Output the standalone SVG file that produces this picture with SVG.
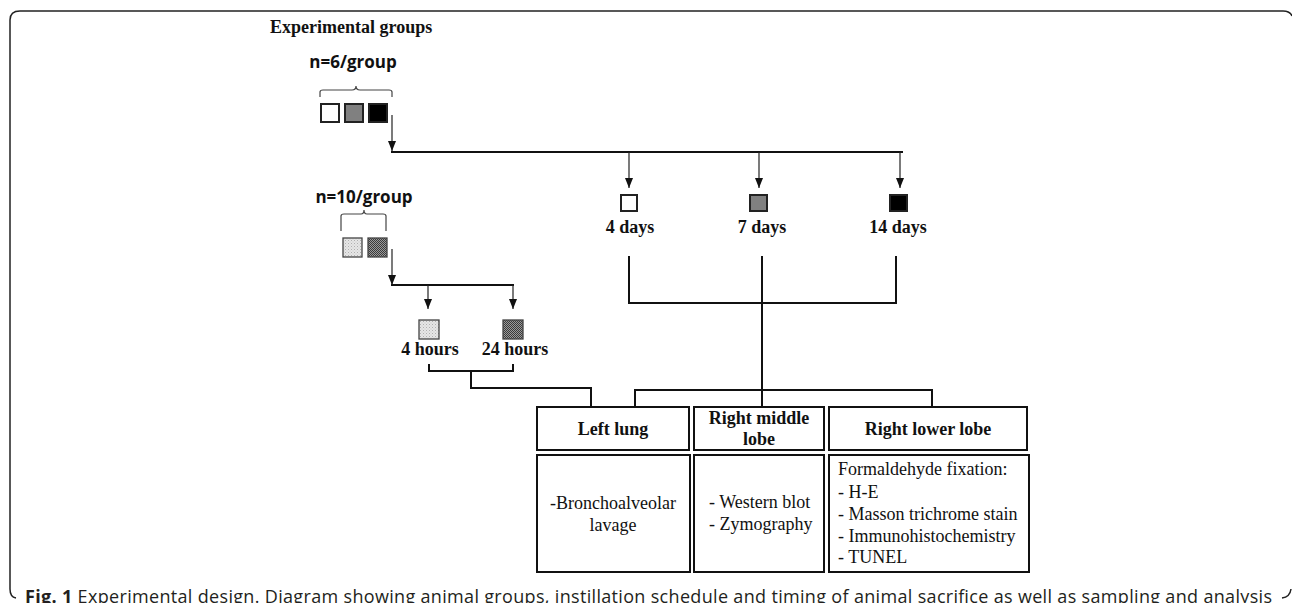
<svg xmlns="http://www.w3.org/2000/svg" width="1292" height="603" viewBox="0 0 1292 603">
<style>
.t{font-family:"Liberation Serif","Times New Roman",serif;font-size:18px;fill:#111}
.b{font-weight:bold}
.s{font-family:"Open Sans","Liberation Sans",sans-serif;font-weight:bold;font-size:17px;fill:#111}
.box{fill:#fff;stroke:#111;stroke-width:2}
.ln{fill:none;stroke:#111;stroke-width:2}
.ar{fill:none;stroke:#222;stroke-width:1.2}
.sq{stroke:#222;stroke-width:2}
.sq2{stroke:#444;stroke-width:1.3}
.br{fill:none;stroke:#444;stroke-width:1.2}
</style>
<defs>
<marker id="ah" markerUnits="userSpaceOnUse" markerWidth="10" markerHeight="8" refX="10" refY="4" orient="auto" viewBox="0 0 10 8">
<path d="M0,0 L10,4 L0,8 z" fill="#111"/>
</marker>
<pattern id="pl" width="3" height="3" patternUnits="userSpaceOnUse">
<rect width="3" height="3" fill="#e6e6e6"/>
<rect width="1" height="1" fill="#b0b0b0"/>
<rect x="1.5" y="1.5" width="1" height="1" fill="#c8c8c8"/>
</pattern>
<pattern id="pd" width="2" height="2" patternUnits="userSpaceOnUse">
<rect width="2" height="2" fill="#9a9a9a"/>
<rect width="1" height="1" fill="#3a3a3a"/>
<rect x="1" y="1" width="1" height="1" fill="#3a3a3a"/>
</pattern>
</defs>
<rect width="1292" height="603" fill="#fff"/>
<g id="frame">
<path d="M16,598 Q10,597 10,589 L10,20 Q10,11 20,11 L1283,11 Q1290,11 1292,16" fill="none" stroke="#222" stroke-width="1.5"/>
<path d="M1282,598 Q1290,597 1291,589" fill="none" stroke="#222" stroke-width="1.5"/>
</g>
<g id="title">
<text class="t b" x="270" y="33" font-size="18.5">Experimental groups</text>
</g>
<g id="group-6">
<text class="s" x="353" y="68" text-anchor="middle">n=6/group</text>
<path class="br" d="M320,97 L320,92 Q320,90 323,90 L352,90 Q356,90 356,86 Q356,90 360,90 L389,90 Q392,90 392,92 L392,97"/>
<rect class="sq" x="321" y="104" width="18" height="18" fill="#fff"/>
<rect class="sq" x="345" y="104" width="18" height="18" fill="#808080"/>
<rect class="sq" x="369" y="104" width="18" height="18" fill="#000"/>
</g>
<g id="group-10">
<text class="s" x="364" y="203" text-anchor="middle">n=10/group</text>
<path class="br" d="M341,231 L341,216 Q341,214 344,214 L361,214 Q364,214 364,210 Q364,214 367,214 L383,214 Q386,214 386,216 L386,231"/>
<rect class="sq2" x="343" y="238" width="19" height="19" fill="url(#pl)"/>
<rect class="sq2" x="368" y="238" width="19" height="19" fill="url(#pd)"/>
</g>
<g id="day4">
<rect class="sq" x="621" y="195" width="16" height="16" fill="#fff"/>
<text class="t b" x="630" y="233" text-anchor="middle">4 days</text>
</g>
<g id="day7">
<rect class="sq" x="750" y="195" width="17" height="16" fill="#808080"/>
<text class="t b" x="762" y="233" text-anchor="middle">7 days</text>
</g>
<g id="day14">
<rect class="sq" x="890" y="195" width="17" height="16" fill="#000"/>
<text class="t b" x="898" y="233" text-anchor="middle">14 days</text>
</g>
<g id="hour4">
<rect class="sq2" x="419" y="320" width="20" height="19" fill="url(#pl)"/>
<text class="t b" x="430" y="355" text-anchor="middle">4 hours</text>
</g>
<g id="hour24">
<rect class="sq2" x="503" y="320" width="20" height="19" fill="url(#pd)"/>
<text class="t b" x="515" y="355" text-anchor="middle">24 hours</text>
</g>
<g id="connectors">
<line class="ar" x1="392" y1="115" x2="392" y2="151" marker-end="url(#ah)"/>
<line class="ln" x1="391" y1="152" x2="903" y2="152"/>
<line class="ar" x1="629" y1="152" x2="629" y2="188" marker-end="url(#ah)"/>
<line class="ar" x1="759" y1="152" x2="759" y2="188" marker-end="url(#ah)"/>
<line class="ar" x1="900" y1="152" x2="900" y2="188" marker-end="url(#ah)"/>
<line class="ar" x1="392" y1="249" x2="392" y2="285" marker-end="url(#ah)"/>
<line class="ln" x1="391" y1="285" x2="514" y2="285"/>
<line class="ar" x1="428" y1="285" x2="428" y2="309" marker-end="url(#ah)"/>
<line class="ar" x1="513" y1="285" x2="513" y2="309" marker-end="url(#ah)"/>
<path class="ln" d="M429,364 L429,371 L513,371 L513,364"/>
<path class="ln" d="M471,371 L471,388 L591,388 L591,407"/>
<path class="ln" d="M629,256 L629,303 L896,303 L896,256"/>
<line class="ln" x1="762" y1="256" x2="762" y2="407"/>
<path class="ln" d="M635,407 L635,390 L932,390 L932,407"/>
</g>
<g id="left-lung">
<rect class="box" x="537" y="407" width="152" height="43"/>
<text class="t b" x="613" y="435" text-anchor="middle">Left lung</text>
<rect class="box" x="537" y="455" width="153" height="117"/>
<text class="t" x="613" y="509" text-anchor="middle">-Bronchoalveolar</text>
<text class="t" x="613" y="531" text-anchor="middle">lavage</text>
</g>
<g id="right-middle-lobe">
<rect class="box" x="694" y="407" width="130" height="43"/>
<text class="t b" x="759" y="424" text-anchor="middle">Right middle</text>
<text class="t b" x="759" y="445" text-anchor="middle">lobe</text>
<rect class="box" x="694" y="455" width="130" height="117"/>
<text class="t" x="709" y="508">- Western blot</text>
<text class="t" x="709" y="530">- Zymography</text>
</g>
<g id="right-lower-lobe">
<rect class="box" x="829" y="407" width="198" height="43"/>
<text class="t b" x="928" y="435" text-anchor="middle">Right lower lobe</text>
<rect class="box" x="829" y="455" width="200" height="117"/>
<text class="t" x="838" y="475">Formaldehyde fixation:</text>
<text class="t" x="838" y="498">- H-E</text>
<text class="t" x="838" y="520">- Masson trichrome stain</text>
<text class="t" x="838" y="542">- Immunohistochemistry</text>
<text class="t" x="838" y="563">- TUNEL</text>
</g>
<g id="caption">
<text x="25" y="603" font-family="'Open Sans','Liberation Sans',sans-serif" font-size="18" fill="#231f20" textLength="1247" lengthAdjust="spacing"><tspan font-weight="bold">Fig. 1</tspan> Experimental design. Diagram showing animal groups, instillation schedule and timing of animal sacrifice as well as sampling and analysis</text>
</g>
</svg>
